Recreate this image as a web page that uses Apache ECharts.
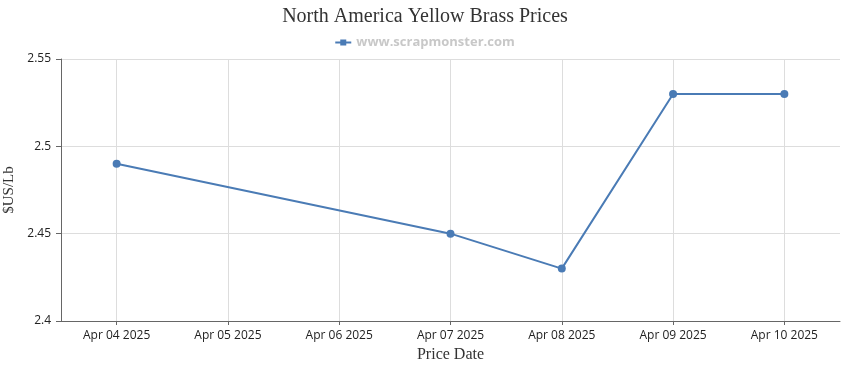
<!DOCTYPE html>
<html>
<head>
<meta charset="utf-8">
<script src="https://cdn.jsdelivr.net/npm/echarts@6/dist/echarts.min.js"></script>
<style>html,body{margin:0;padding:0;background:#fff;}#c{width:850px;height:370px;}</style>
</head>
<body>
<div id="c"></div>
<script>
const categories = ['Apr 04 2025','Apr 05 2025','Apr 06 2025','Apr 07 2025','Apr 08 2025','Apr 09 2025','Apr 10 2025'];
const prices = [2.49, null, null, 2.45, 2.43, 2.53, 2.53];
const seriesName = 'www.scrapmonster.com';
const chartTitle = 'North America Yellow Brass Prices';

const chart = echarts.init(document.getElementById('c'));
chart.setOption({
  animation: false,
  title: {
    text: chartTitle, left: 'center', top: 2,
    textStyle: {fontFamily: 'Liberation Serif', fontSize: 20, fontWeight: 'normal', color: '#333'}
  },
  legend: {
    top: 31, left: 'center',
    itemWidth: 16, itemHeight: 8, itemGap: 5,
    data: [{name: seriesName, icon: 'path://M0,3h5v-2h6v2h5v2h-5v2h-6v-2h-5z'}],
    textStyle: {fontFamily: 'Open Sans', fontSize: 13, fontWeight: 'bold', color: '#c8c8c8'}
  },
  grid: {left: 61, right: 10, top: 59, bottom: 49, containLabel: false, outerBoundsMode: 'none'},
  xAxis: {
    type: 'category', data: categories, boundaryGap: true,
    name: 'Price Date', nameLocation: 'middle', nameGap: 26,
    nameTextStyle: {fontFamily: 'Liberation Serif', fontSize: 16, color: '#333'},
    axisLine: {show: true, lineStyle: {color: '#666'}},
    axisTick: {show: true, alignWithLabel: true, length: 4, lineStyle: {color: '#666'}},
    axisLabel: {fontFamily: 'Open Sans', fontSize: 12, color: '#222', margin: 9, interval: 0},
    splitLine: {show: true, alignWithLabel: true, lineStyle: {color: '#ddd'}}
  },
  yAxis: {
    type: 'value', min: 2.4, max: 2.55, interval: 0.05,
    name: '$US/Lb', nameLocation: 'middle', nameGap: 37,
    nameTextStyle: {fontFamily: 'Liberation Serif', fontSize: 15, color: '#333'},
    axisLine: {show: true, lineStyle: {color: '#666'}},
    axisTick: {show: true, length: 5, lineStyle: {color: '#666'}},
    axisLabel: {fontFamily: 'Open Sans', fontSize: 12, color: '#222', margin: 10},
    splitLine: {show: true, lineStyle: {color: '#ddd'}}
  },
  series: [{
    name: seriesName, type: 'line', data: prices, connectNulls: true,
    symbol: 'circle', symbolSize: 8,
    lineStyle: {color: '#4a7bb5', width: 2},
    itemStyle: {color: '#4a7bb5'}
  }]
});
</script>
</body>
</html>
